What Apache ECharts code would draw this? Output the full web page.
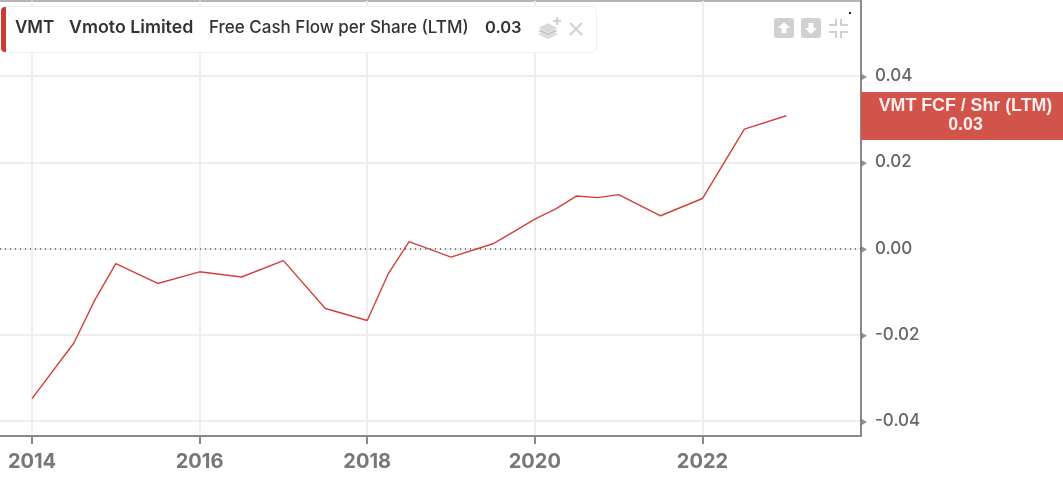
<!DOCTYPE html>
<html>
<head>
<meta charset="utf-8">
<style>
  html, body { margin: 0; padding: 0; background: #fff; }
  #chart { width: 1063px; height: 478px; }
</style>
<script src="https://cdn.jsdelivr.net/npm/echarts@6/dist/echarts.min.js"></script>
</head>
<body>
<div id="chart"></div>
<script>
// fractional years of the points visible on the line
const years = [2014, 2014.5, 2014.75, 2015, 2015.5, 2016, 2016.5, 2017, 2017.5, 2018, 2018.25, 2018.5, 2019,
  2019.5, 2019.75, 2020, 2020.25, 2020.5, 2020.75, 2021, 2021.5, 2022, 2022.5, 2023];
const fcfPerShare = [-0.0348, -0.0219, -0.0119, -0.0035, -0.0081, -0.0054, -0.0066, -0.0028, -0.0139,
  -0.0167, -0.0059, 0.0016, -0.0020, 0.0011, 0.0039, 0.0068, 0.0092, 0.0122, 0.0118, 0.0125, 0.0076,
  0.0116, 0.0277, 0.0308];
const yearTicks = [2014, 2016, 2018, 2020, 2022];
const valueTicks = [-0.04, -0.02, 0, 0.02, 0.04];

const xMin = 2013.618;
const xMax = 2023.892;
const line = '#d2403a';
const iconGrey = '#d0d0d0';

const chart = echarts.init(document.getElementById('chart'));

const text = (x, y, s, weight, size, fill, family) => ({
  type: 'text', x, y,
  style: { text: s, fontFamily: family || 'Inter', fontWeight: weight, fontSize: size, fill: fill || '#333', verticalAlign: 'middle' }
});

chart.setOption({
  animation: false,
  grid: { left: 0, right: 202, top: 1, bottom: 42 },
  xAxis: {
    type: 'value',
    min: xMin,
    max: xMax,
    axisLine: { onZero: false, lineStyle: { color: '#8a8a8a', width: 2 } },
    axisTick: { customValues: yearTicks, length: 8, lineStyle: { color: '#8a8a8a', width: 2 } },
    axisLabel: {
      customValues: yearTicks,
      formatter: v => String(v),
      fontFamily: 'Inter', fontWeight: 700, fontSize: 20, color: '#777', margin: 16
    },
    splitLine: { show: true, lineStyle: { color: '#eeeeee', width: 2 } }
  },
  yAxis: {
    type: 'value',
    position: 'right',
    min: -0.04348,
    max: 0.05741,
    axisLine: { show: true, onZero: false, lineStyle: { color: '#8a8a8a', width: 2 } },
    axisTick: { show: false, customValues: valueTicks },
    axisLabel: {
      customValues: valueTicks,
      formatter: v => v.toFixed(2),
      fontFamily: 'Inter', fontWeight: 500, fontSize: 17, color: '#666', margin: 14
    },
    splitLine: { show: true, lineStyle: { color: '#eeeeee', width: 2 } }
  },
  series: [
    {
      name: 'VMT FCF / Shr (LTM)',
      type: 'line',
      data: years.map((y, i) => [y, fcfPerShare[i]]),
      showSymbol: false,
      silent: true,
      lineStyle: { color: line, width: 1.4 },
      markLine: {
        silent: true,
        symbol: 'none',
        label: { show: false },
        lineStyle: { color: '#555', type: [1, 4], width: 1.5 },
        data: [{ yAxis: 0 }]
      }
    },
    {
      // small triangles at the right axis
      type: 'scatter',
      data: valueTicks.map(v => [xMax, v]),
      symbol: 'triangle',
      symbolSize: [7, 6],
      symbolRotate: -90,
      symbolOffset: [3, 1],
      clip: false,
      silent: true,
      itemStyle: { color: '#777' }
    }
  ],
  graphic: [
    // top frame
    { type: 'rect', shape: { x: 0, y: 0, width: 862, height: 2 }, style: { fill: '#b4b4b4' }, silent: true },

    // current value tag
    { type: 'rect', shape: { x: 861, y: 92, width: 202, height: 48 }, style: { fill: '#d1534a' }, z: 5 },
    { type: 'text', x: 965.5, y: 106, z: 6, style: { text: 'VMT FCF / Shr (LTM)', fontFamily: 'Liberation Sans', fontWeight: 700, fontSize: 17.8, fill: '#fdeeee', align: 'center', verticalAlign: 'middle' } },
    { type: 'text', x: 965.5, y: 125, z: 6, style: { text: '0.03', fontFamily: 'Liberation Sans', fontWeight: 700, fontSize: 17.8, fill: '#fdeeee', align: 'center', verticalAlign: 'middle' } },

    // legend box
    { type: 'rect', z: 5, shape: { x: 1.5, y: 6.5, width: 595, height: 46, r: 5 }, style: { fill: '#fff', stroke: '#efefef', lineWidth: 1 } },
    { type: 'rect', z: 6, shape: { x: 1, y: 7, width: 5, height: 45, r: [4, 0, 0, 4] }, style: { fill: '#cc3a33' } },
    Object.assign(text(15, 28, 'VMT', 600, 17), { z: 6 }),
    Object.assign(text(69, 28, 'Vmoto Limited', 600, 17.8), { z: 6 }),
    Object.assign(text(209, 28, 'Free Cash Flow per Share (LTM)', 500, 17), { z: 6 }),
    Object.assign(text(485, 28, '0.03', 600, 16.5), { z: 6 }),

    // layers icon
    { type: 'polygon', z: 6, shape: { points: [[538, 34], [548, 29], [558, 34], [548, 39]] }, style: { fill: '#d8d8d8' } },
    { type: 'polygon', z: 6, shape: { points: [[538, 31], [548, 26], [558, 31], [548, 36]] }, style: { fill: '#c4c4c4', stroke: '#fff', lineWidth: 0.5 } },
    { type: 'polygon', z: 6, shape: { points: [[538, 28], [548, 23], [558, 28], [548, 33]] }, style: { fill: '#d8d8d8', stroke: '#fff', lineWidth: 0.5 } },
    { type: 'rect', z: 6, shape: { x: 553, y: 20, width: 8, height: 2 }, style: { fill: '#d0d0d0' } },
    { type: 'rect', z: 6, shape: { x: 556, y: 17, width: 2, height: 8 }, style: { fill: '#d0d0d0' } },

    // close icon
    { type: 'line', z: 6, shape: { x1: 570, y1: 23, x2: 582, y2: 35 }, style: { stroke: '#cfcfcf', lineWidth: 2 } },
    { type: 'line', z: 6, shape: { x1: 582, y1: 23, x2: 570, y2: 35 }, style: { stroke: '#cfcfcf', lineWidth: 2 } },

    // up / down buttons
    { type: 'rect', z: 6, shape: { x: 774, y: 18, width: 20, height: 20, r: 3 }, style: { fill: iconGrey } },
    { type: 'polygon', z: 6, shape: { points: [[784, 22], [790, 28], [786.5, 28], [786.5, 33], [781.5, 33], [781.5, 28], [778, 28]] }, style: { fill: '#fff' } },
    { type: 'rect', z: 6, shape: { x: 801, y: 18, width: 20, height: 20, r: 3 }, style: { fill: iconGrey } },
    { type: 'polygon', z: 6, shape: { points: [[811, 34], [817, 28], [813.5, 28], [813.5, 23], [808.5, 23], [808.5, 28], [805, 28]] }, style: { fill: '#fff' } },

    // collapse icon
    { type: 'polyline', z: 6, shape: { points: [[829, 25], [836, 25], [836, 19]] }, style: { stroke: iconGrey, lineWidth: 2, fill: 'none' } },
    { type: 'polyline', z: 6, shape: { points: [[848, 25], [841, 25], [841, 19]] }, style: { stroke: iconGrey, lineWidth: 2, fill: 'none' } },
    { type: 'polyline', z: 6, shape: { points: [[829, 32], [836, 32], [836, 38]] }, style: { stroke: iconGrey, lineWidth: 2, fill: 'none' } },
    { type: 'polyline', z: 6, shape: { points: [[848, 32], [841, 32], [841, 38]] }, style: { stroke: iconGrey, lineWidth: 2, fill: 'none' } },

    // stray dot
    { type: 'rect', z: 6, shape: { x: 849, y: 12, width: 2, height: 2 }, style: { fill: '#222' } }
  ]
});
</script>
</body>
</html>
